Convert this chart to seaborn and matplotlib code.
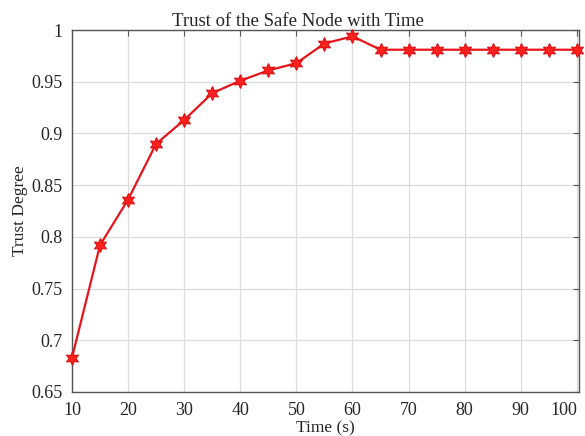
import numpy as np
import pandas as pd
import seaborn as sns
import matplotlib.pyplot as plt

# values
time_s = [10, 15, 20, 25, 30, 35, 40, 45, 50, 55, 60, 65, 70, 75, 80, 85, 90, 95, 100]
trust = [0.683, 0.792, 0.836, 0.890, 0.913, 0.939, 0.951, 0.961, 0.968, 0.987, 0.994,
         0.981, 0.981, 0.981, 0.981, 0.981, 0.981, 0.981, 0.981]
x_ticks = [10, 20, 30, 40, 50, 60, 70, 80, 90, 100]
y_ticks = [0.65, 0.7, 0.75, 0.8, 0.85, 0.9, 0.95, 1]
y_labels = ["0.65", "0.7", "0.75", "0.8", "0.85", "0.9", "0.95", "1"]

df = pd.DataFrame({"Time": time_s, "Trust": trust})

sns.set_style("white")
plt.rcParams["font.family"] = ["Liberation Serif", "DejaVu Serif"]

fig = plt.figure(figsize=(5.85, 4.36), dpi=100)
ax = fig.add_axes([0.123, 0.101, 0.867, 0.830])

sns.lineplot(data=df, x="Time", y="Trust", ax=ax, color="#e8141c", linewidth=1.6,
             marker=(6, 1, 0), markersize=10, markerfacecolor="#ff2020",
             markeredgecolor="#e01010", markeredgewidth=0.8, clip_on=False, zorder=5)

ax.set_xlim(10, 100.4)
ax.set_ylim(0.65, 1.0)
ax.set_xticks(x_ticks)
ax.set_yticks(y_ticks)
ax.set_yticklabels(y_labels)
ax.grid(True, color="#dcdcdc", linewidth=0.9)
ax.tick_params(direction="in", top=True, right=True, length=4, labelsize=13,
               color="#555555")
ax.tick_params(axis="x", pad=7)
ax.tick_params(axis="y", pad=7)
xl = ax.get_xticklabels()
xl[-1].set_horizontalalignment("right")
xl[-1].set_x(100)
for s in ax.spines.values():
    s.set_color("#555555")
    s.set_linewidth(1.0)

ax.set_title("Trust of the Safe Node with Time", fontsize=13.5, pad=3, x=0.445)
ax.set_xlabel("Time (s)", fontsize=12.5, labelpad=1)
ax.set_ylabel("Trust Degree", fontsize=12.5, labelpad=2)

fig.savefig("out.png", dpi=100)
